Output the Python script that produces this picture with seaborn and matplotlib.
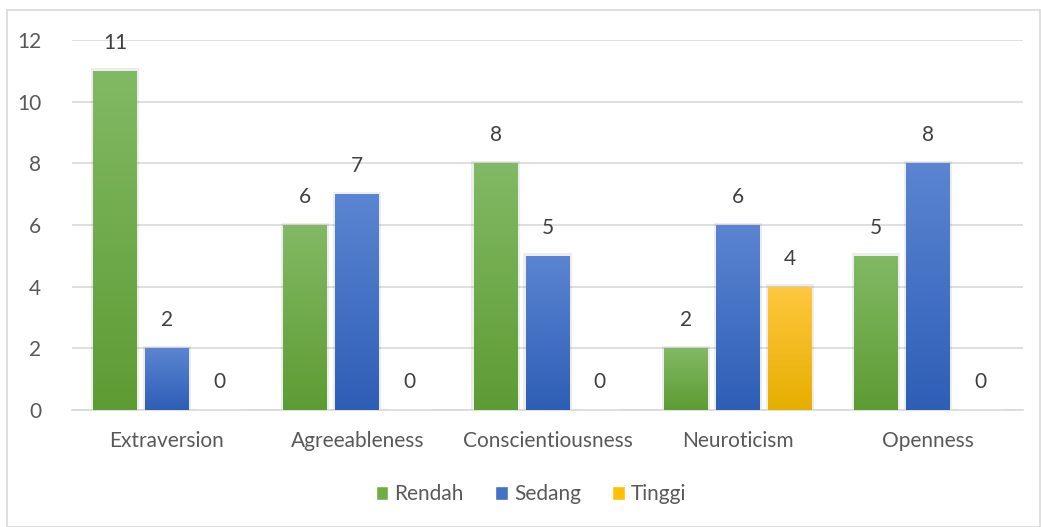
import numpy as np
import pandas as pd
import matplotlib
matplotlib.use("Agg")
import matplotlib.pyplot as plt
from matplotlib.patches import Rectangle, Patch
from matplotlib.colors import LinearSegmentedColormap
import seaborn as sns

# ── data ─────────────────────────────────────
traits = ["Extraversion", "Agreeableness", "Conscientiousness", "Neuroticism", "Openness"]
levels = ["Rendah", "Sedang", "Tinggi"]
rendah = [11, 6, 8, 2, 5]
sedang = [2, 7, 5, 6, 8]
tinggi = [0, 0, 0, 4, 0]

df = pd.DataFrame({
    "trait": traits * 3,
    "level": [l for l in levels for _ in traits],
    "value": rendah + sedang + tinggi,
})

# top / bottom gradient colours per level
grad = {
    "Rendah": ("#82b964", "#5d9c33"),
    "Sedang": ("#5b85d2", "#2e5eb6"),
    "Tinggi": ("#ffc83f", "#e6ae00"),
}
flat = {"Rendah": "#70ad47", "Sedang": "#4472c4", "Tinggi": "#ffc000"}

sns.set_style("white")
plt.rcParams["font.family"] = ["Lato", "DejaVu Sans"]
text_col = "#595959"
fs = 15

fig = plt.figure(figsize=(10.41, 5.27), dpi=100)
ax = fig.add_axes([0.069, 0.222, 0.914, 0.702])

sns.barplot(data=df, x="trait", y="value", hue="level", hue_order=levels,
            palette=flat, width=0.82, gap=0.16, ax=ax, legend=False,
            errorbar=None, zorder=3)

# gradient fill inside every bar
for cont, lev in zip(ax.containers, levels):
    cmap = LinearSegmentedColormap.from_list(lev, [grad[lev][1], grad[lev][0]])
    for p in cont.patches:
        x0, y0 = p.get_x(), p.get_y()
        w, h = p.get_width(), p.get_height()
        if h <= 0:
            continue
        # soft shadow
        ax.add_patch(Rectangle((x0 - 0.012, y0), w + 0.024, h + 0.08,
                               facecolor="#000000", alpha=0.07, lw=0, zorder=2))
        img = ax.imshow(np.linspace(0, 1, 100).reshape(-1, 1), cmap=cmap,
                        extent=[x0, x0 + w, y0, y0 + h], origin="lower",
                        aspect="auto", zorder=4)
        img.set_clip_path(p)
        p.set_facecolor("none")
        p.set_edgecolor("none")
    ax.bar_label(cont, labels=[f"{int(v)}" for v in cont.datavalues],
                 padding=13, fontsize=fs, color="#404040")

ax.set_xlim(-0.5, 4.5)
ax.set_ylim(0, 12)
ax.set_yticks(range(0, 13, 2))
ax.yaxis.grid(True, color="#d9d9d9", lw=1.2, zorder=0)
ax.set_axisbelow(True)
ax.set_xlabel("")
ax.set_ylabel("")
for s in ["top", "right", "left"]:
    ax.spines[s].set_visible(False)
ax.spines["bottom"].set_color("#d9d9d9")
ax.spines["bottom"].set_linewidth(1.2)
ax.tick_params(axis="both", length=0, labelsize=fs, colors=text_col)
ax.tick_params(axis="x", pad=15)
ax.tick_params(axis="y", pad=22)

handles = [Patch(facecolor=flat[l], label=l) for l in levels]
fig.legend(handles=handles, loc="center", bbox_to_anchor=(0.51, 0.062), ncol=3,
           frameon=False, fontsize=fs, handlelength=0.6, handleheight=0.6,
           handletextpad=0.3, columnspacing=1.5, labelcolor=text_col)

# chart border
fig.patches.append(Rectangle((7 / 1041, 0.0), 1033 / 1041, 517 / 527,
                             transform=fig.transFigure, fill=False,
                             edgecolor="#d9d9d9", lw=1.2))

fig.savefig("out.png", dpi=100)
